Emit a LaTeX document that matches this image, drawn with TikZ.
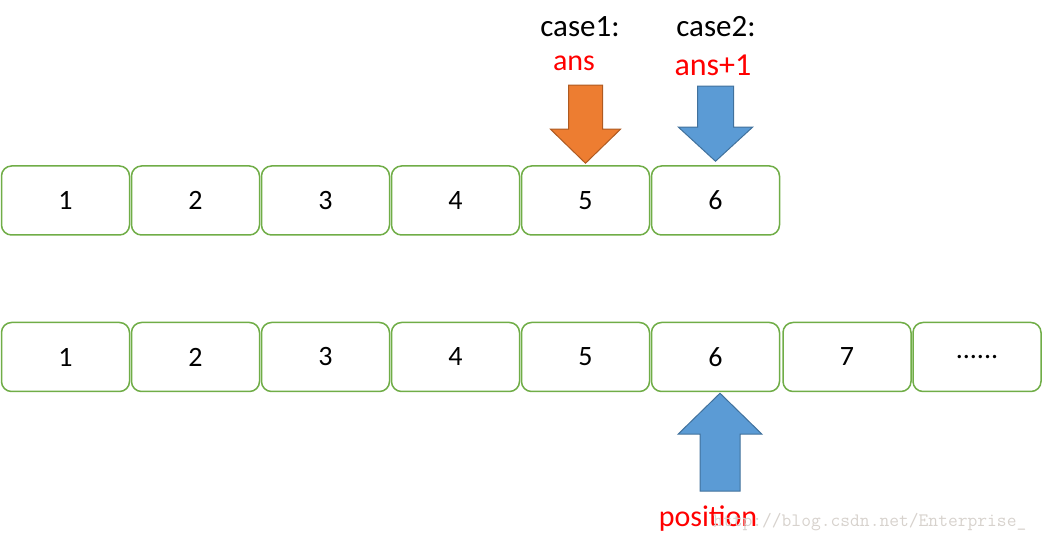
\documentclass[tikz,border=0pt]{standalone}
\usepackage{fontspec}
\setmainfont{Carlito}
\usepackage{tikz}
\usetikzlibrary{positioning}
\usepackage{xcolor}

\definecolor{boxgreen}{RGB}{112,173,71}
\definecolor{arrorange}{RGB}{237,125,49}
\definecolor{arrorangeedge}{RGB}{174,90,33}
\definecolor{arrblue}{RGB}{91,155,213}
\definecolor{arrblueedge}{RGB}{65,113,156}
\definecolor{markgray}{RGB}{215,210,205}

\begin{document}
\begin{tikzpicture}[
    x=1pt, y=1pt,
    node distance=0pt and 0.5pt,
    cell/.style={draw=boxgreen, line width=1.5pt, rounded corners=10pt,
                 minimum width=128pt, minimum height=69pt, fill=white,
                 font=\fontsize{28}{30}\selectfont},
    casetxt/.style={anchor=base, font=\fontsize{31}{33}\selectfont},
    redtxt/.style={anchor=base, text=red, font=\fontsize{30}{32}\selectfont},
    orangearrow/.style={fill=arrorange, draw=arrorangeedge, line width=1pt},
    bluearrow/.style={fill=arrblue, draw=arrblueedge, line width=1pt}
]
\useasboundingbox (0,0) rectangle (1047,540);

% --- upper row ---
\node[cell] (u1) at (65.5,339.5) {1};
\node[cell, right=of u1] (u2) {2};
\node[cell, right=of u2] (u3) {3};
\node[cell, right=of u3] (u4) {4};
\node[cell, right=of u4] (u5) {5};
\node[cell, right=of u5] (u6) {6};

% --- lower row ---
\node[cell] (l1) at (65.5,183) {1};
\node[cell, right=of l1] (l2) {2};
\node[cell, right=of l2] (l3) {3};
\node[cell, right=of l3] (l4) {4};
\node[cell, right=of l4] (l5) {5};
\node[cell, right=of l5] (l6) {6};
\node[cell, right=2pt of l6] (l7) {7};
\node[cell, right=of l7] (l8) {......};

% --- down arrows ---
\draw[orangearrow] ([yshift=2pt]u5.north) -- ++(-35,34) -- ++(18,0)
    -- ++(0,44) -- ++(34,0) -- ++(0,-44) -- ++(18,0) -- cycle;
\draw[bluearrow] ([yshift=4pt]u6.north) -- ++(-37,34) -- ++(19,0)
    -- ++(0,41) -- ++(36,0) -- ++(0,-41) -- ++(19,0) -- cycle;

% --- up arrow ---
\draw[bluearrow] ([xshift=4.5pt,yshift=-1pt]l6.south) -- ++(-42,-41) -- ++(22,0)
    -- ++(0,-57) -- ++(40,0) -- ++(0,57) -- ++(22,0) -- cycle;

% --- labels ---
\node[casetxt] (case1) at (580,503) {case1:};
\node[casetxt] (case2) at (716,503) {case2:};
\node[redtxt] (ans) at (574,469) {ans};
\node[redtxt, font=\fontsize{32}{34}\selectfont] (ansplus) at (713,464) {ans+1};
\node[redtxt] (pos) at (708,13) {position};

% watermark
\node[anchor=base west, inner sep=0pt, text=markgray,
      font=\ttfamily\fontsize{19}{20}\selectfont] (mark) at (713,13)
     {http://blog.csdn.net/Enterprise\_};

\end{tikzpicture}
\end{document}
